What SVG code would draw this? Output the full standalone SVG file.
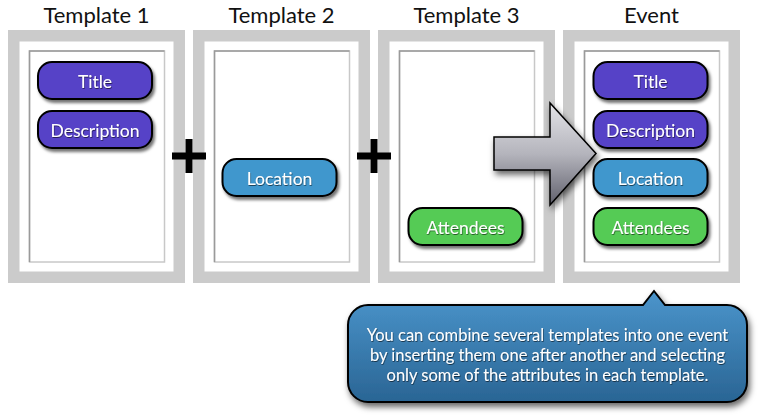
<svg xmlns="http://www.w3.org/2000/svg" width="758" height="418" viewBox="0 0 758 418">
  <defs>
    <filter id="sh" x="-20%" y="-30%" width="140%" height="170%">
      <feDropShadow dx="2" dy="3" stdDeviation="1.8" flood-color="#000" flood-opacity="0.55"/>
    </filter>
    <filter id="shBig" x="-20%" y="-20%" width="140%" height="150%">
      <feDropShadow dx="2" dy="4" stdDeviation="3" flood-color="#000" flood-opacity="0.6"/>
    </filter>
    <filter id="ts" x="-10%" y="-30%" width="120%" height="160%">
      <feDropShadow dx="0.6" dy="1" stdDeviation="0.6" flood-color="#000" flood-opacity="0.55"/>
    </filter>
    <linearGradient id="arrowGrad" x1="0" y1="0" x2="0" y2="1">
      <stop offset="0" stop-color="#e4e4e8"/>
      <stop offset="0.5" stop-color="#b4b4bc"/>
      <stop offset="1" stop-color="#60606c"/>
    </linearGradient>
    <linearGradient id="calloutGrad" x1="0" y1="0" x2="0" y2="1">
      <stop offset="0" stop-color="#4b95cc"/>
      <stop offset="1" stop-color="#2a6594"/>
    </linearGradient>
  </defs>
  <style>
    .title { font-family: Lato, "Open Sans", "Liberation Sans", sans-serif; font-size: 22px; fill: #111; text-anchor: middle; }
    .outer { fill: none; stroke: #cbcbcb; stroke-width: 11.5; }
    .inner { fill: #fff; stroke: #c8c8c8; stroke-width: 1.5; }
    .innerTL { fill: none; stroke: #9a9a9a; stroke-width: 1.5; }
    .pill { stroke: #000; stroke-width: 2; filter: url(#sh); }
    .purple { fill: #5643c7; }
    .blue { fill: #4197cd; }
    .green { fill: #55cb55; }
    .ptext { font-family: Lato, "Open Sans", "Liberation Sans", sans-serif; font-size: 17.5px; fill: #fff; text-anchor: middle; filter: url(#ts); }
    .plus { fill: #000; }
    .ctext { font-family: Lato, "Open Sans", "Liberation Sans", sans-serif; font-size: 16.5px; fill: #fff; text-anchor: middle; filter: url(#ts); }
  </style>
  <rect width="758" height="418" fill="#fff"/>

  <g id="template1">
    <text class="title" x="96.5" y="23">Template 1</text>
    <rect class="outer" x="13.75" y="35.75" width="165.5" height="241.5"/>
    <rect class="inner" x="29.5" y="51" width="135" height="211"/>
    <path class="innerTL" d="M29.5,262 V51 H164.5"/>
    <g id="t1-title"><rect class="pill purple" x="38" y="62" width="114" height="37" rx="14"/><text class="ptext" x="95" y="88">Title</text></g>
    <g id="t1-description"><rect class="pill purple" x="38" y="111" width="114" height="37" rx="14"/><text class="ptext" x="95" y="137">Description</text></g>
  </g>

  <g id="template2">
    <text class="title" x="281.5" y="23">Template 2</text>
    <rect class="outer" x="198.75" y="35.75" width="165.5" height="241.5"/>
    <rect class="inner" x="214.5" y="51" width="135" height="211"/>
    <path class="innerTL" d="M214.5,262 V51 H349.5"/>
    <g id="t2-location"><rect class="pill blue" x="222.5" y="159" width="114" height="37" rx="14"/><text class="ptext" x="279.5" y="185">Location</text></g>
  </g>

  <g id="template3">
    <text class="title" x="466.5" y="23">Template 3</text>
    <rect class="outer" x="383.75" y="35.75" width="165.5" height="241.5"/>
    <rect class="inner" x="399.5" y="51" width="135" height="211"/>
    <path class="innerTL" d="M399.5,262 V51 H534.5"/>
    <g id="t3-attendees"><rect class="pill green" x="408.5" y="208" width="114" height="37" rx="14"/><text class="ptext" x="465.5" y="234">Attendees</text></g>
  </g>

  <g id="event">
    <text class="title" x="651.5" y="23">Event</text>
    <rect class="outer" x="568.75" y="35.75" width="165.5" height="241.5"/>
    <rect class="inner" x="584.5" y="51" width="135" height="211"/>
    <path class="innerTL" d="M584.5,262 V51 H719.5"/>
    <g id="ev-title"><rect class="pill purple" x="593.5" y="62" width="114" height="37" rx="14"/><text class="ptext" x="650.5" y="88">Title</text></g>
    <g id="ev-description"><rect class="pill purple" x="593.5" y="111" width="114" height="37" rx="14"/><text class="ptext" x="650.5" y="137">Description</text></g>
    <g id="ev-location"><rect class="pill blue" x="593.5" y="159" width="114" height="37" rx="14"/><text class="ptext" x="650.5" y="185">Location</text></g>
    <g id="ev-attendees"><rect class="pill green" x="593.5" y="208" width="114" height="37" rx="14"/><text class="ptext" x="650.5" y="234">Attendees</text></g>
  </g>

  <g id="operators">
    <g id="plus1"><rect class="plus" x="185.5" y="139" width="7" height="34"/><rect class="plus" x="172" y="152.5" width="34" height="7"/></g>
    <g id="plus2"><rect class="plus" x="370.5" y="139" width="7" height="34"/><rect class="plus" x="357" y="152.5" width="34" height="7"/></g>
  </g>

  <g id="connectors">
    <path id="merge-arrow" d="M494,137 L550,137 L550,103 L596,153.5 L550,205 L550,170 L494,170 Z" fill="url(#arrowGrad)" stroke="#000" stroke-width="1.5" stroke-linejoin="miter" filter="url(#shBig)"/>
  </g>

  <g id="callout">
    <path d="M368,305 L643,305 L654,291 L665,305 L727,305 A20,20 0 0 1 747,325 L747,382 A20,20 0 0 1 727,402 L368,402 A20,20 0 0 1 348,382 L348,325 A20,20 0 0 1 368,305 Z" fill="url(#calloutGrad)" stroke="#000" stroke-width="2" filter="url(#shBig)"/>
    <text class="ctext" x="547.5" y="341">You can combine several templates into one event</text>
    <text class="ctext" x="547.5" y="361">by inserting them one after another and selecting</text>
    <text class="ctext" x="547.5" y="381">only some of the attributes in each template.</text>
  </g>
</svg>
